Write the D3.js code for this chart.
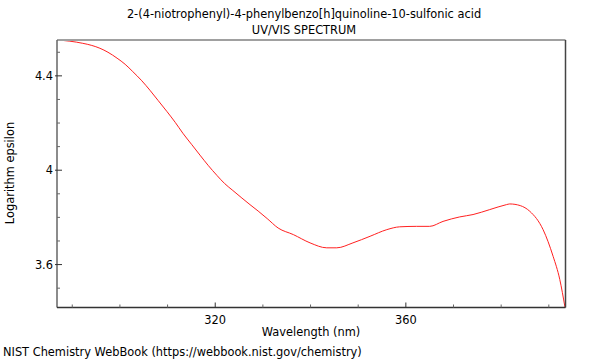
<!DOCTYPE html>
<html>
<head>
<meta charset="utf-8">
<script src="https://cdn.jsdelivr.net/npm/d3@7"></script>
<style>
  html, body { margin: 0; padding: 0; background: #fff; }
  text { font-family: "DejaVu Sans", sans-serif; fill: #000; }
</style>
</head>
<body>
<svg id="chart" width="600" height="360"></svg>
<script>
// Data
const wavelength = [286.8, 289.5, 292.2, 294.1, 295.8, 297.5, 299.4, 301.1, 302.7, 304.6, 306.3, 308.0, 309.9, 311.6, 313.2, 315.1, 316.8, 318.5, 320.4, 322.0, 323.7, 325.6, 327.3, 329.0, 330.9, 333.2, 336.4, 339.9, 343.4, 345.5, 348.9, 352.5, 356.0, 358.7, 362.2, 365.0, 367.8, 371.3, 374.1, 377.6, 381.1, 381.8, 384.0, 386.0, 388.8, 390.9, 392.3, 393.4];
const logEpsilon = [4.552, 4.547, 4.538, 4.529, 4.517, 4.500, 4.475, 4.449, 4.418, 4.379, 4.339, 4.296, 4.248, 4.203, 4.157, 4.108, 4.064, 4.021, 3.977, 3.943, 3.914, 3.882, 3.854, 3.827, 3.795, 3.755, 3.727, 3.692, 3.671, 3.671, 3.692, 3.720, 3.748, 3.760, 3.762, 3.762, 3.783, 3.802, 3.812, 3.833, 3.854, 3.857, 3.850, 3.826, 3.748, 3.635, 3.537, 3.418];
const xMajorTicks = [320, 360];
const xMinorTicks = [290, 300, 310, 330, 340, 350, 370, 380, 390];
const yMajorTicks = [3.6, 4.0, 4.4];
const yMinorTicks = [3.5, 3.7, 3.8, 3.9, 4.1, 4.2, 4.3, 4.5];
const yTickLabels = ["3.6", "4", "4.4"];
const titleLines = ["2-(4-niotrophenyl)-4-phenylbenzo[h]quinoline-10-sulfonic acid", "UV/VIS SPECTRUM"];

const svg = d3.select("#chart");
const L = 57, R = 565.5, T = 40, B = 307.5;
const FS = 11.4;

const x = d3.scaleLinear().domain([286.8, 393.5]).range([L, R]);
const y = d3.scaleLinear().domain([3.418, 4.552]).range([B, T]);

// Titles
svg.selectAll("text.title").data(titleLines).join("text")
  .attr("class", "title")
  .attr("x", 304).attr("y", (d, i) => 18 + i * 16)
  .attr("text-anchor", "middle").attr("font-size", FS).text(d => d);

// Curve
const pts = wavelength.map((w, i) => [w, logEpsilon[i]]);
svg.append("path").datum(pts)
  .attr("fill", "none").attr("stroke", "#ff2020").attr("stroke-width", 1)
  .attr("d", d3.line().x(d => x(d[0])).y(d => y(d[1])).curve(d3.curveMonotoneX));

// Frame
svg.append("line").attr("x1", L).attr("x2", R).attr("y1", T).attr("y2", T).attr("stroke", "#a0a0a0").attr("stroke-width", 2);
svg.append("line").attr("x1", R).attr("x2", R).attr("y1", T).attr("y2", B).attr("stroke", "#444").attr("stroke-width", 1.5);
svg.append("line").attr("x1", L).attr("x2", L).attr("y1", T).attr("y2", B).attr("stroke", "#666").attr("stroke-width", 1.5);
svg.append("line").attr("x1", L).attr("x2", R).attr("y1", B).attr("y2", B).attr("stroke", "#333").attr("stroke-width", 1.5);

// X ticks
const gx = svg.append("g");
gx.selectAll("line.maj").data(xMajorTicks).join("line")
  .attr("x1", d => x(d)).attr("x2", d => x(d)).attr("y1", B).attr("y2", B - 5)
  .attr("stroke", "#333");
gx.selectAll("line.min").data(xMinorTicks).join("line").attr("class", "min")
  .attr("x1", d => x(d)).attr("x2", d => x(d)).attr("y1", B).attr("y2", B - 3)
  .attr("stroke", "#666");
gx.selectAll("text").data(xMajorTicks).join("text")
  .attr("x", d => x(d)).attr("y", 324).attr("text-anchor", "middle")
  .attr("font-size", FS).text(d => d);

// Y ticks
const gy = svg.append("g");
gy.selectAll("line.maj").data(yMajorTicks).join("line")
  .attr("x1", L - 2).attr("x2", L + 5).attr("y1", d => y(d)).attr("y2", d => y(d))
  .attr("stroke", "#333");
gy.selectAll("line.min").data(yMinorTicks).join("line").attr("class", "min")
  .attr("x1", L).attr("x2", L + 3).attr("y1", d => y(d)).attr("y2", d => y(d))
  .attr("stroke", "#666");
gy.selectAll("text").data(yMajorTicks).join("text")
  .attr("x", 53).attr("y", d => y(d) + 4).attr("text-anchor", "end")
  .attr("font-size", FS).text((d, i) => yTickLabels[i]);

// Axis labels
svg.append("text").attr("x", 311).attr("y", 336).attr("text-anchor", "middle")
  .attr("font-size", FS).text("Wavelength (nm)");
svg.append("text").attr("transform", "translate(14,173) rotate(-90)")
  .attr("text-anchor", "middle").attr("font-size", FS).text("Logarithm epsilon");

// Footer
svg.append("text").attr("x", 3).attr("y", 356).attr("font-size", FS)
  .text("NIST Chemistry WebBook (https://webbook.nist.gov/chemistry)");
</script>
</body>
</html>
